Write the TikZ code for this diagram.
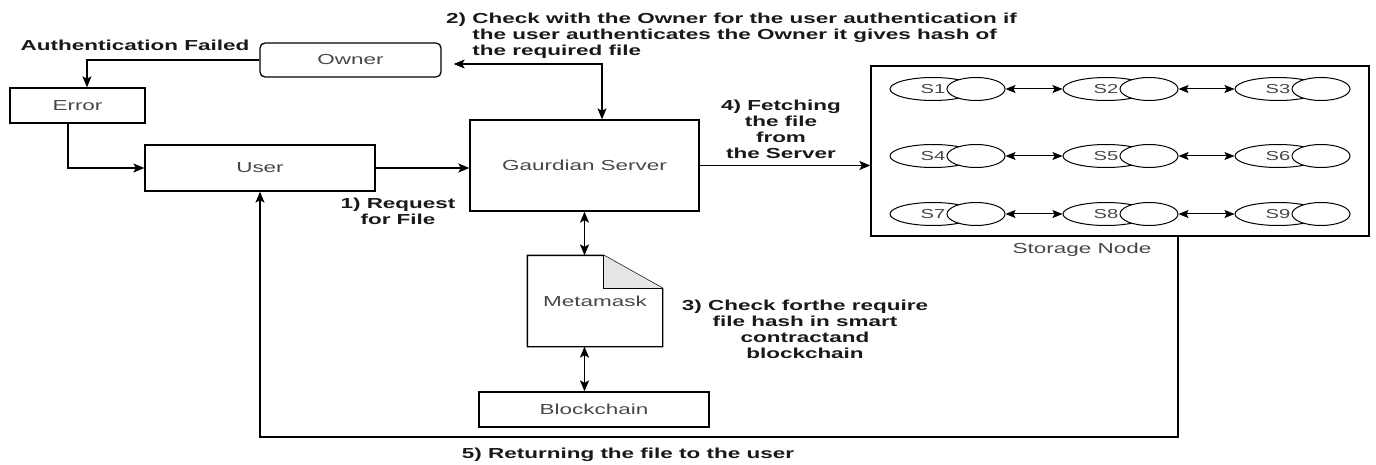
\documentclass[tikz,border=0pt]{standalone}
\usepackage{fontspec}
\setmainfont{Liberation Sans}[FakeStretch=1.55]
\usetikzlibrary{arrows.meta,shapes.geometric}

\tikzset{
  txt/.style={font=\fontsize{14.5}{16}\selectfont},
  box/.style={draw, line width=1.3pt, txt, text=black!72, inner sep=0pt},
  lbl/.style={font=\fontsize{14.5}{16}\selectfont\bfseries, text=black!90, align=center, inner sep=0pt},
  arr/.style={line width=1.3pt, -{Stealth[length=11pt,width=9pt,inset=2.5pt]}},
  darr/.style={line width=1.3pt, {Stealth[length=11pt,width=9pt,inset=2.5pt]}-{Stealth[length=11pt,width=9pt,inset=2.5pt]}},
  sarr/.style={line width=1pt, {Stealth[length=10pt,width=8pt,inset=2pt]}-{Stealth[length=10pt,width=8pt,inset=2pt]}},
  ell/.style={ellipse, draw, fill=white, line width=1pt, minimum height=23pt, inner sep=0pt,
              font=\fontsize{13}{15}\selectfont, text=black!72},
}

\begin{document}
\begin{tikzpicture}[x=1pt,y=-1pt]
\useasboundingbox (0,0) rectangle (1376,465);

% main blocks
\node[box, rounded corners=5pt, minimum width=181pt, minimum height=34pt] (owner) at (350.5,60) {Owner};
\node[box, minimum width=135pt, minimum height=35pt] (error) at (77.5,105.5) {Error};
\node[box, minimum width=230pt, minimum height=46pt] (user) at (260,168) {User};
\node[box, minimum width=229pt, minimum height=91pt] (server) at (584.5,165.5) {Gaurdian Server};
\node[box, draw=none, minimum width=134pt, minimum height=90pt] (mm) at (595,301) {Metamask};
\node[box, minimum width=230pt, minimum height=35pt] (chain) at (594,409.5) {Blockchain};
\node[box, minimum width=498pt, minimum height=170pt] (store) at (1120,151) {};
\node[box, draw=none] (storelbl) at (1082,250) {Storage Node};

% Metamask drawn as a document with a folded corner
\draw[line width=1.3pt] (mm.north west) -- ([xshift=-59pt]mm.north east)
  -- ([yshift=-33pt]mm.north east) -- (mm.south east) -- (mm.south west) -- cycle;
\filldraw[fill=black!10, line width=1.3pt] ([xshift=-59pt]mm.north east)
  -- ([xshift=-59pt,yshift=-33pt]mm.north east) -- ([yshift=-33pt]mm.north east);

% storage servers: each one a pair of overlapping ellipses
\foreach \r/\yy in {0/89,1/156,2/214} {
  \foreach \c/\xx in {0/889,1/1062,2/1234} {
    \pgfmathtruncatemacro\n{3*\r+\c+1}
    \node[ell, minimum width=86pt] (sa\n) at (\xx+44,\yy) {S\n};
    \node[ell, minimum width=58pt] (sb\n) at (\xx+87,\yy) {};
  }
}
\foreach \i/\j in {1/2,2/3,4/5,5/6,7/8,8/9}
  \draw[sarr] (sb\i.east) -- (sa\j.west);

% labels
\node[lbl] (authlbl) at (135,45) {Authentication Failed};
\node[lbl, anchor=north west, align=left] (step2) at (446,12)
  {\begin{tabular}{@{}l@{\ }l@{}}2) & Check with the Owner for the user authentication if\\
   & the user authenticates the Owner it gives hash of\\
   & the required file\end{tabular}};
\node[lbl] (step1) at (398,211) {1) Request\\for File};
\node[lbl] (step4) at (781,129) {4) Fetching\\the file\\from\\the Server};
\node[lbl] (step3) at (805,329) {3) Check forthe require\\file hash in smart\\contractand\\blockchain};
\node[lbl] (step5) at (628,455) {5) Returning the file to the user};

% connectors
\draw[arr] (owner.west) -| ([xshift=9.5pt]error.north);
\draw[arr] ([xshift=-9.5pt]error.south) |- (user.west);
\draw[arr] (user.east) -- (user.east -| server.west);

\coordinate (j) at (602,64);
\coordinate (ownerR) at ([xshift=12pt]owner.east);
\draw[darr] (ownerR |- j) -- (j) -- (j |- server.north);

\draw[arr] (server.east) -- (server.east -| store.west);
\draw[darr] (server.south) -- (server.south |- mm.north);
\draw[darr] (mm.south -| server.south) -- (chain.north -| server.south);

\coordinate (ret) at (1178,437);
\draw[arr] (ret |- store.south) -- (ret) -| (user.south);
\end{tikzpicture}
\end{document}
